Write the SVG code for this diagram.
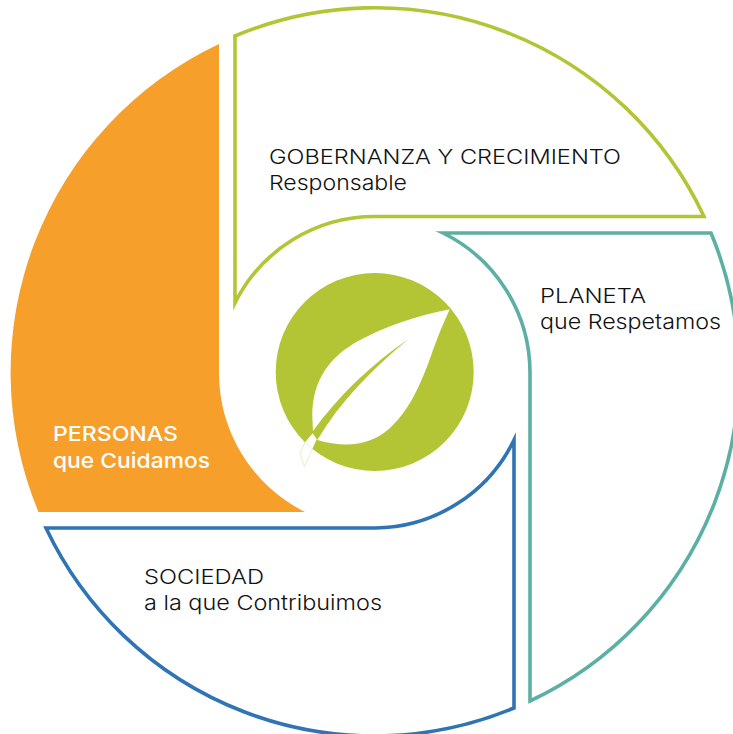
<svg xmlns="http://www.w3.org/2000/svg" width="733" height="734" viewBox="0 0 733 734">
<style>
.seg{fill:#fff;stroke-width:3.6;stroke-linejoin:miter;stroke-miterlimit:10}
.t{font-family:"Inter","Liberation Sans",sans-serif;font-size:20.5px;font-weight:300;fill:#111}
.w{fill:#fff;font-weight:500}
</style>
<rect width="733" height="734" fill="#fff"/>
<g id="personas">
<path d="M219 44V372A155 155 0 0 0 305 512H38.500A363 363 0 0 1 219 44Z" fill="#f6a02b"/>
<text class="t w" x="53" y="441" textLength="125" lengthAdjust="spacingAndGlyphs">PERSONAS</text>
<text class="t w" x="53" y="468" textLength="157" lengthAdjust="spacingAndGlyphs">que Cuidamos</text>
</g>
<g id="gobernanza">
<path class="seg" stroke="#b3c535" d="M235 36A363 363 0 0 1 704 216.500H375A156 156 0 0 0 235 303Z"/>
<text class="t" x="269" y="164" textLength="352" lengthAdjust="spacingAndGlyphs">GOBERNANZA Y CRECIMIENTO</text>
<text class="t" x="269" y="190" textLength="138" lengthAdjust="spacingAndGlyphs">Responsable</text>
</g>
<g id="planeta">
<path class="seg" stroke="#5bb0a3" d="M443 233H711A363 363 0 0 1 530 701V372A156 156 0 0 0 443 233Z"/>
<text class="t" x="540" y="303" textLength="106" lengthAdjust="spacingAndGlyphs">PLANETA</text>
<text class="t" x="540" y="329" textLength="181" lengthAdjust="spacingAndGlyphs">que Respetamos</text>
</g>
<g id="sociedad">
<path class="seg" stroke="#2f74b5" d="M46 528H375A156 156 0 0 0 514 440V708A363 363 0 0 1 46 528Z"/>
<text class="t" x="144" y="584" textLength="120" lengthAdjust="spacingAndGlyphs">SOCIEDAD</text>
<text class="t" x="144" y="610" textLength="238" lengthAdjust="spacingAndGlyphs">a la que Contribuimos</text>
</g>
<g id="logo">
<circle cx="374.700" cy="372" r="99" fill="#b3c535"/>
<path fill="#fff" d="M449.700 309.300C415 316 385 327 360 340C330 356 312 380 312.300 416.700L313.300 438L317.300 440C345 448 370 446 390 428C412 408 424 376 433 350C438 336 444 322 449.700 309.300Z"/>
<path fill="#b3c535" d="M408.300 339.300C372 364 338 396 312.500 431.700L313.300 438L317.300 440C340 402 372 369 408.300 339.300Z"/>
<path fill="#fff" d="M305 442.300L312.700 433.300L316.700 439.300L312.300 449Z"/>
<path fill="none" stroke="#dfe6b4" stroke-width="0.700" d="M305 442.300L300 453.300L304.300 466.700L312.300 449"/>
</g>
</svg>
